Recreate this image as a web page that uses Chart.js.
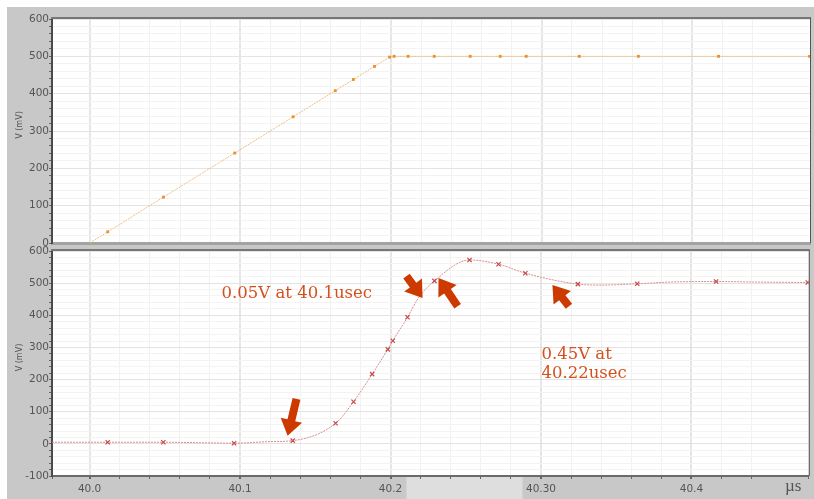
<!DOCTYPE html>
<html>
<head>
<meta charset="utf-8">
<script src="https://cdn.jsdelivr.net/npm/chart.js@4/dist/chart.umd.min.js"></script>
<style>
  html, body { margin: 0; padding: 0; background: #fff; overflow: hidden; }
  #frame { position: absolute; left: 7px; top: 7px; width: 807px; height: 492px; background: #c8c8c8; }
  canvas { position: absolute; }
  #topChart { left: 7px; top: 7px; }
  #bottomChart { left: 7px; top: 240px; }
</style>
</head>
<body>
<div id="frame"></div>
<canvas id="topChart" width="807" height="250"></canvas>
<canvas id="bottomChart" width="807" height="259"></canvas>
<script>
// time axis (µs) and labelled ticks
const xMin = 39.975;
const xMax = 40.478;
const xMajor = [40.0, 40.1, 40.2, 40.3, 40.4];
const xMajorLabels = ['40.0', '40.1', '40.2', '40.30', '40.4'];

// top panel: input ramp (mV)
const topT = [40.0, 40.012, 40.049, 40.0963, 40.135, 40.163, 40.175, 40.189, 40.199, 40.202,
              40.2113, 40.2286, 40.2525, 40.2724, 40.2897, 40.3249, 40.3641, 40.4173, 40.4777];
const topV = [0, 30, 123, 241, 338, 408, 438, 473, 498, 500,
              500, 500, 500, 500, 500, 500, 500, 500, 500];
const topMark = [0, 1, 1, 1, 1, 1, 1, 1, 1, 1, 1, 1, 1, 1, 1, 1, 1, 1, 1];

// bottom panel: output response (mV)
const botT = [39.975, 40.012, 40.049, 40.08, 40.096, 40.12, 40.135, 40.1635, 40.1754, 40.1878,
              40.1982, 40.2015, 40.2113, 40.219, 40.2292, 40.2525, 40.2718, 40.2896, 40.3245, 40.34,
              40.364, 40.39, 40.4164, 40.45, 40.4773];
const botV = [5, 5, 5, 3, 2, 7, 10, 64, 131, 217,
              294, 321, 394, 457, 507, 572, 559, 531, 497, 494,
              498, 504, 505, 503, 502];
const botMark = [0, 1, 1, 0, 1, 0, 1, 1, 1, 1,
                 1, 1, 1, 0, 1, 1, 1, 1, 1, 0,
                 1, 0, 1, 0, 1];

// annotations (data coordinates)
const notes = [
  { text: '0.05V at 40.1usec', t: 40.0877, v: 453 },
  { text: '0.45V at', t: 40.3003, v: 264 },
  { text: '40.22usec', t: 40.3003, v: 205 }
];
const arrows = [
  [40.1375, 140, 40.1316, 25],
  [40.2106, 522, 40.2213, 454],
  [40.2446, 428, 40.2319, 516],
  [40.3186, 428, 40.3076, 494]
];
const bandRange = [40.2106, 40.2877];

function isMajorX(v) {
  return xMajor.some(m => Math.abs(m - v) < 1e-6);
}

function toPoints(ts, vs) {
  return ts.map((t, i) => ({ x: t, y: vs[i] }));
}

function xScaleOpts(showLabels, axisHeight) {
  return {
    type: 'linear',
    min: xMin,
    max: xMax,
    afterFit: s => { s.height = axisHeight; },
    border: showLabels ? { color: '#6a6a6a', width: 2 } : { color: '#a3a3a3', width: 3 },
    grid: {
      color: c => isMajorX(c.tick.value) ? '#e6e6e6' : '#f1f1f1',
      lineWidth: c => isMajorX(c.tick.value) ? 2 : 1,
      drawTicks: showLabels,
      tickLength: 3,
      tickColor: '#666'
    },
    ticks: {
      display: showLabels,
      stepSize: 0.02,
      maxTicksLimit: 100,
      autoSkip: false,
      maxRotation: 0,
      padding: 4,
      color: '#555',
      font: { family: 'DejaVu Sans', size: 10.5 },
      callback: v => {
        const i = xMajor.findIndex(m => Math.abs(m - v) < 1e-6);
        return i >= 0 ? xMajorLabels[i] : '';
      }
    }
  };
}

function yScaleOpts(min, max) {
  return {
    min: min,
    max: max,
    afterFit: s => { s.width = 45; },
    border: { color: '#4a4a4a', width: 2 },
    grid: {
      color: c => c.tick.value % 100 === 0 ? '#e3e3e3' : '#f3f3f3',
      tickLength: 3,
      tickColor: '#666'
    },
    ticks: {
      stepSize: 20,
      autoSkip: false,
      padding: 0,
      color: '#555',
      font: { family: 'DejaVu Sans', size: 10.5 },
      callback: v => v % 100 === 0 ? String(v) : ''
    }
  };
}

// white plot area, frame lines, rotated y title
const panelPlugin = {
  id: 'panel',
  beforeDraw(chart) {
    const { ctx, chartArea: a } = chart;
    ctx.save();
    ctx.fillStyle = '#fff';
    ctx.fillRect(a.left, a.top, a.right - a.left, a.bottom - a.top);
    if (chart.canvas.id === 'bottomChart') {
      const x = chart.scales.x;
      const x1 = x.getPixelForValue(bandRange[0]);
      const x2 = x.getPixelForValue(bandRange[1]);
      ctx.fillStyle = '#dedede';
      ctx.fillRect(x1, a.bottom + 1, x2 - x1, chart.height - a.bottom);
    }
    ctx.restore();
  },
  afterDraw(chart) {
    const { ctx, chartArea: a } = chart;
    ctx.save();
    ctx.strokeStyle = '#777';
    ctx.lineWidth = 2;
    ctx.beginPath();
    ctx.moveTo(a.left - 1, a.top - 1);
    ctx.lineTo(a.right + 1, a.top - 1);
    ctx.stroke();
    ctx.strokeStyle = '#555';
    ctx.lineWidth = 1;
    ctx.beginPath();
    ctx.moveTo(a.right + 0.5, a.top - 1);
    ctx.lineTo(a.right + 0.5, a.bottom);
    ctx.stroke();

    ctx.translate(13, (a.top + a.bottom) / 2 - 6);
    ctx.rotate(-Math.PI / 2);
    ctx.fillStyle = '#555';
    ctx.font = '8px DejaVu Sans';
    ctx.textAlign = 'center';
    ctx.textBaseline = 'middle';
    ctx.fillText('V (mV)', 0, 0);
    ctx.restore();
  }
};

function drawArrow(ctx, x1, y1, x2, y2) {
  const ang = Math.atan2(y2 - y1, x2 - x1);
  const len = Math.hypot(x2 - x1, y2 - y1);
  const headLen = 16, headW = 11, shaftW = 4;
  ctx.save();
  ctx.translate(x1, y1);
  ctx.rotate(ang);
  ctx.beginPath();
  ctx.moveTo(0, -shaftW);
  ctx.lineTo(len - headLen, -shaftW);
  ctx.lineTo(len - headLen, -headW);
  ctx.lineTo(len, 0);
  ctx.lineTo(len - headLen, headW);
  ctx.lineTo(len - headLen, shaftW);
  ctx.lineTo(0, shaftW);
  ctx.closePath();
  ctx.fill();
  ctx.restore();
}

const notesPlugin = {
  id: 'notes',
  afterDraw(chart) {
    const { ctx } = chart;
    const x = chart.scales.x, y = chart.scales.y;
    ctx.save();
    ctx.fillStyle = '#cc3a00';
    arrows.forEach(a => {
      drawArrow(ctx, x.getPixelForValue(a[0]), y.getPixelForValue(a[1]),
                x.getPixelForValue(a[2]), y.getPixelForValue(a[3]));
    });
    ctx.fillStyle = '#d4501e';
    ctx.font = '16.5px DejaVu Serif';
    ctx.textBaseline = 'alphabetic';
    notes.forEach(n => {
      ctx.fillText(n.text, x.getPixelForValue(n.t), y.getPixelForValue(n.v));
    });
    // unit label
    ctx.fillStyle = '#555';
    ctx.font = '17px Liberation Serif';
    ctx.fillText('µs', 778, 251);
    ctx.restore();
  }
};

const topChart = new Chart(document.getElementById('topChart'), {
  type: 'line',
  data: {
    datasets: [{
      data: toPoints(topT, topV),
      borderColor: '#efbf80',
      borderWidth: 1,
      borderDash: [2, 1],
      tension: 0,
      pointStyle: 'rect',
      pointRadius: c => topMark[c.dataIndex] ? 2 : 0,
      pointBackgroundColor: '#e8902a',
      pointBorderWidth: 0
    }]
  },
  options: {
    responsive: false,
    animation: false,
    layout: { padding: { top: 12, right: 4, left: 0, bottom: 0 } },
    plugins: { legend: { display: false }, tooltip: { enabled: false } },
    scales: { x: xScaleOpts(false, 14), y: yScaleOpts(0, 600) }
  },
  plugins: [panelPlugin]
});

const bottomChart = new Chart(document.getElementById('bottomChart'), {
  type: 'line',
  data: {
    datasets: [{
      data: toPoints(botT, botV),
      borderColor: '#d68f8f',
      borderWidth: 1,
      borderDash: [2, 1],
      cubicInterpolationMode: 'monotone',
      pointStyle: 'crossRot',
      pointRadius: c => botMark[c.dataIndex] ? 3 : 0,
      pointBorderColor: '#c84848',
      pointBorderWidth: 1.2
    }]
  },
  options: {
    responsive: false,
    animation: false,
    layout: { padding: { top: 11, right: 4, left: 0, bottom: 0 } },
    plugins: { legend: { display: false }, tooltip: { enabled: false } },
    scales: { x: xScaleOpts(true, 23), y: yScaleOpts(-100, 600) }
  },
  plugins: [panelPlugin, notesPlugin]
});
</script>
</body>
</html>
